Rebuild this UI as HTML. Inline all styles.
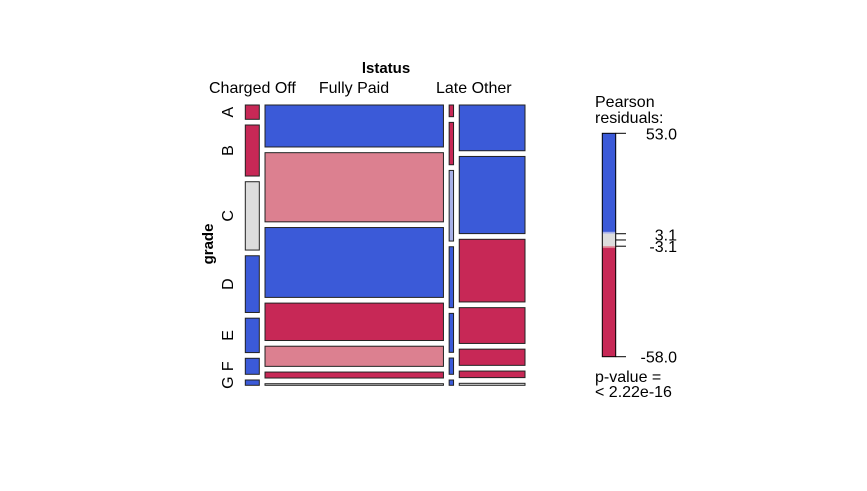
<!DOCTYPE html>
<html><head><meta charset="utf-8"><style>
body{margin:0;background:#fff}
svg{display:block;font-family:"Liberation Sans",sans-serif}
</style></head><body>
<svg id="chart" width="867" height="491" xmlns="http://www.w3.org/2000/svg">
<rect width="867" height="491" fill="#fff"/>
<text x="386" y="73" font-size="15" font-weight="bold" text-anchor="middle">lstatus</text>
<text x="209" y="93" font-size="16">Charged Off</text>
<text x="354" y="93" font-size="16" text-anchor="middle">Fully Paid</text>
<text x="436" y="93" font-size="16">Late Other</text>
<text transform="translate(213,244) rotate(-90)" font-size="15" font-weight="bold" text-anchor="middle">grade</text>
<g id="rowlabels"></g>
<g id="cells"></g>
<g id="legend"></g>
<text x="595" y="107" font-size="16">Pearson</text>
<text x="595" y="123" font-size="16">residuals:</text>
<text x="595" y="382" font-size="16">p-value =</text>
<text x="595" y="397" font-size="16">&lt; 2.22e-16</text>
</svg>
<script>
const columns = ["Charged Off","Fully Paid","Late","Other"];
const grades = ["A","B","C","D","E","F","G"];
const colWidths = [14, 178.3, 4.4, 65.7];
const cellHeights = [
  [14.3, 51, 68.3, 56.7, 34.4, 16, 5.3],
  [42.3, 69.7, 70.4, 37.7, 20.3, 6, 1.6],
  [11.7, 42.4, 70.7, 61, 39, 16.3, 5.3],
  [46, 77.6, 63, 36, 16.3, 6.6, 2]
];
const residuals = [
  [-20, -10, 1, 10, 15, 10, 8],
  [30, -3, 10, -10, -3, -6, 0],
  [-5, -5, 3, 5, 5, 5, 5],
  [40, 20, -20, -15, -10, -5, 0]
];
const legendTicks = [53.0, 3.1, -3.1, -58.0];
const rowLabelHeights = [14.3, 51, 68.3, 56.7, 34.4, 16, 5.3];

const NS = "http://www.w3.org/2000/svg";
const X0 = 245.3, X1 = 525, Y0 = 105, Y1 = 385.3, GAP = 5.7;
function color(r){
  if (r > 4) return "#3B5AD8";
  if (r > 2) return "#A7B0E8";
  if (r < -4) return "#C72856";
  if (r < -2) return "#DC8090";
  return "#DDDDDD";
}
const totalW = colWidths.reduce((a,b)=>a+b,0);
const wScale = (X1 - X0 - GAP*(columns.length-1)) / totalW;
const cells = document.getElementById("cells");
let x = X0;
columns.forEach((c, ci) => {
  const w = colWidths[ci]*wScale;
  const hs = cellHeights[ci];
  const tot = hs.reduce((a,b)=>a+b,0);
  const hScale = (Y1 - Y0 - GAP*(grades.length-1)) / tot;
  let y = Y0;
  grades.forEach((g, gi) => {
    const h = hs[gi]*hScale;
    const r = document.createElementNS(NS, "rect");
    r.setAttribute("x", x); r.setAttribute("y", y);
    r.setAttribute("width", w); r.setAttribute("height", Math.max(h, 0.5));
    r.setAttribute("fill", color(residuals[ci][gi]));
    r.setAttribute("stroke", "#222"); r.setAttribute("stroke-width", "1");
    
    
    cells.appendChild(r);
    y += h + GAP;
  });
  x += w + GAP;
});
const rl = document.getElementById("rowlabels");
{
  const tot = rowLabelHeights.reduce((a,b)=>a+b,0);
  const hScale = (Y1 - Y0 - GAP*(grades.length-1)) / tot;
  let y = Y0;
  grades.forEach((g, gi) => {
    const h = rowLabelHeights[gi]*hScale;
    const t = document.createElementNS(NS, "text");
    const cy = y + h/2;
    t.setAttribute("transform", `translate(233,${cy}) rotate(-90)`);
    t.setAttribute("text-anchor", "middle");
    t.setAttribute("font-size", "16");
    t.textContent = g;
    
    
    rl.appendChild(t);
    y += h + GAP;
  });
}
const lg = document.getElementById("legend");
const LX = 602.3, LW = 13.4, LY0 = 133.3, LY1 = 356.7;
const vmax = legendTicks[0], vmin = legendTicks[legendTicks.length-1];
const ly = v => LY0 + (vmax - v) / (vmax - vmin) * (LY1 - LY0);
const bands = [[vmax, 4, "#3B5AD8"], [4, 3.1, "#A7B0E8"], [3.1, -3.1, "#DDDDDD"], [-3.1, -4, "#DC8090"], [-4, vmin, "#C72856"]];
bands.forEach((b, i) => {
  const r = document.createElementNS(NS, "rect");
  r.setAttribute("x", LX); r.setAttribute("y", ly(b[0]));
  r.setAttribute("width", LW); r.setAttribute("height", ly(b[1]) - ly(b[0]));
  r.setAttribute("fill", b[2]);
  
  
  lg.appendChild(r);
});
const frame = document.createElementNS(NS, "rect");
frame.setAttribute("x", LX); frame.setAttribute("y", LY0);
frame.setAttribute("width", LW); frame.setAttribute("height", LY1-LY0);
frame.setAttribute("fill", "none"); frame.setAttribute("stroke", "#000");


lg.appendChild(frame);
[vmax, 3.1, 0, -3.1, vmin].forEach(v => {
  const l = document.createElementNS(NS, "line");
  l.setAttribute("x1", LX+LW); l.setAttribute("x2", 626);
  l.setAttribute("y1", ly(v)); l.setAttribute("y2", ly(v));
  l.setAttribute("stroke", "#000");
  
  
  lg.appendChild(l);
});
legendTicks.forEach((v, i) => {
  const t = document.createElementNS(NS, "text");
  t.setAttribute("x", 677); t.setAttribute("y", ly(v) + 6 + (i===1 ? 1 : 0) + (i===2 ? 0 : 0));
  t.setAttribute("text-anchor", "end"); t.setAttribute("font-size", "16");
  t.textContent = v.toFixed(1);
  
  
  lg.appendChild(t);
});
</script>
</body></html>
